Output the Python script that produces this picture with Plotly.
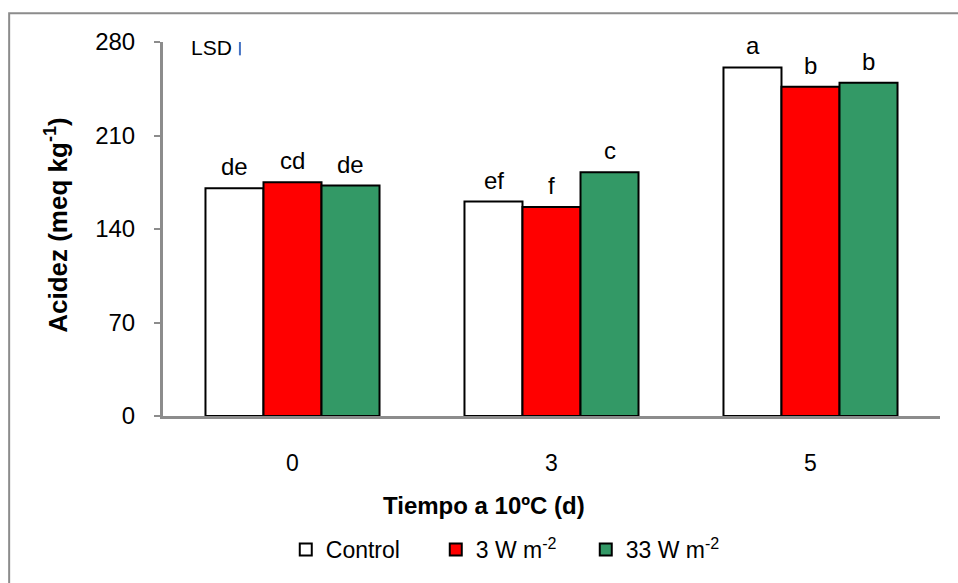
import plotly.graph_objects as go

categories = ["0", "3", "5"]
series_names = ["Control", "3 W m<sup>-2</sup>", "33 W m<sup>-2</sup>"]
control = [170.5, 160.5, 261.0]
w3 = [175.0, 156.5, 246.5]
w33 = [172.5, 182.5, 249.5]
letters_control = ["de", "ef", "a"]
letters_w3 = ["cd", "f", "b"]
letters_w33 = ["de", "c", "b"]
lsd_value = 10
y_ticks = [0, 70, 140, 210, 280]

colors = ["#FFFFFF", "#FF0000", "#339966"]
FONT = "Liberation Sans, Arial, sans-serif"

fig = go.Figure()
for name, vals, col in zip(series_names, [control, w3, w33], colors):
    fig.add_trace(go.Bar(
        x=categories, y=vals, name=name,
        marker=dict(color=col, line=dict(color="black", width=2)),
    ))

annotations = []
shifts = [-58, 0, 58]
for vals, labs, sh in zip([control, w3, w33], [letters_control, letters_w3, letters_w33], shifts):
    for i, (v, t) in enumerate(zip(vals, labs)):
        # category axis: annotation position given as category index
        annotations.append(dict(x=i, y=v, xref="x", yref="y", text=t, showarrow=False,
                                xshift=sh, xanchor="center", yanchor="bottom", yshift=6,
                                font=dict(family=FONT, size=24, color="black")))

# axis titles
annotations.append(dict(x=-0.137, y=0.51, xref="paper", yref="paper",
                        text="<b>Acidez (meq kg<sup>-1</sup>)</b>", textangle=-90,
                        xanchor="center", yanchor="middle",
                        showarrow=False, font=dict(family=FONT, size=26, color="black")))
annotations.append(dict(x=0.413, y=-0.238, xref="paper", yref="paper",
                        text="<b>Tiempo a 10ºC (d)</b>", showarrow=False,
                        xanchor="center", yanchor="middle",
                        font=dict(family=FONT, size=24, color="black")))
# LSD label
annotations.append(dict(x=0.063, y=275.6, xref="paper", yref="y", text="LSD",
                        showarrow=False, xanchor="center", yanchor="middle",
                        font=dict(family=FONT, size=21, color="black")))

shapes = [
    # LSD bar
    dict(type="line", xref="paper", yref="y", x0=0.099, x1=0.099,
         y0=280 - lsd_value, y1=280, line=dict(color="#4472C4", width=2)),
    # outer chart border
    dict(type="rect", xref="paper", yref="paper", x0=-0.198, x1=1.06,
         y0=-0.46, y1=1.0767, line=dict(color="#8C8C8C", width=2),
         fillcolor="rgba(0,0,0,0)", layer="below"),
]

fig.update_layout(
    width=958, height=583,
    margin=dict(l=163, r=18, t=42, b=163),
    paper_bgcolor="white", plot_bgcolor="white",
    barmode="group", bargap=0.328, bargroupgap=0,
    font=dict(family=FONT, size=20, color="black"),
    showlegend=True,
    legend=dict(orientation="h", x=0.158, y=-0.357, xanchor="left", yanchor="middle",
                font=dict(family=FONT, size=23, color="black"),
                entrywidth=105, traceorder="normal", bgcolor="rgba(0,0,0,0)"),
    annotations=annotations,
    shapes=shapes,
)
fig.update_xaxes(type="category", range=[-0.5, 2.5], showline=True, linecolor="#8C8C8C",
                 linewidth=3, ticks="", showgrid=False,
                 tickfont=dict(family=FONT, size=23, color="black"),
                 ticklabelstandoff=24)
fig.update_yaxes(range=[0, 280], tickvals=y_ticks, showline=True, linecolor="#8C8C8C",
                 linewidth=3, ticks="outside", ticklen=6, tickcolor="#8C8C8C", tickwidth=2,
                 showgrid=False, zeroline=False,
                 tickfont=dict(family=FONT, size=24, color="black"), ticklabelstandoff=14)

fig.write_html("out.html")
